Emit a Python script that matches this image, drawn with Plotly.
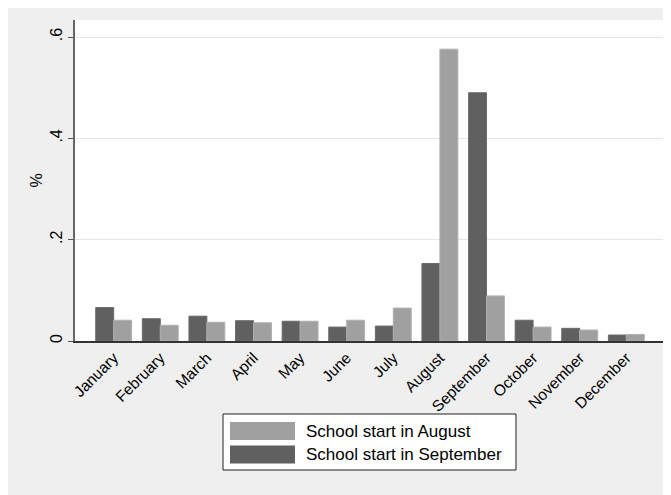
import plotly.graph_objects as go

months = ["January", "February", "March", "April", "May", "June", "July",
          "August", "September", "October", "November", "December"]
sept_start = [0.066, 0.044, 0.049, 0.040, 0.039, 0.0275, 0.0295, 0.153, 0.490, 0.041, 0.025, 0.0118]
aug_start = [0.041, 0.031, 0.037, 0.036, 0.039, 0.041, 0.065, 0.576, 0.089, 0.0275, 0.0216, 0.013]
series_names = ["School start in August", "School start in September"]
y_ticks = [0, 0.2, 0.4, 0.6]
y_ticklabels = ["0", ".2", ".4", ".6"]

DARK = "#606060"
LIGHT = "#a0a0a0"
FONT = "Liberation Sans, Arial, sans-serif"

fig = go.Figure()
fig.add_trace(go.Bar(x=months, y=sept_start, name=series_names[1],
                     marker=dict(color=DARK, line=dict(color="#6a6a6a", width=1)),
                     showlegend=False))
fig.add_trace(go.Bar(x=months, y=aug_start, name=series_names[0],
                     marker=dict(color=LIGHT, line=dict(color="#b0b0b0", width=1)),
                     showlegend=False))

OFF = 8  # page body margin
W, H = 663, 495
L, R, T, B = 67, 6, 12, 162
pw = W - L - R
ph = H - T - B

def px_x(x):  # page pixel -> paper coordinate
    return (x - OFF - L) / pw

def px_y(y):
    return (H - B - (y - OFF)) / ph

shapes = [
    dict(type="rect", xref="paper", yref="paper", x0=px_x(223), x1=px_x(516),
         y0=px_y(470), y1=px_y(414), fillcolor="white",
         line=dict(color="#222222", width=1)),
    dict(type="rect", xref="paper", yref="paper", x0=px_x(230), x1=px_x(295),
         y0=px_y(440), y1=px_y(422), fillcolor=LIGHT, line_width=0),
    dict(type="rect", xref="paper", yref="paper", x0=px_x(230), x1=px_x(295),
         y0=px_y(463.5), y1=px_y(445.5), fillcolor=DARK, line_width=0),
]
annotations = [
    dict(xref="paper", yref="paper", x=px_x(304), y=px_y(431), text=series_names[0],
         showarrow=False, xanchor="left", yanchor="middle",
         font=dict(family=FONT, size=17, color="black")),
    dict(xref="paper", yref="paper", x=px_x(304), y=px_y(454.5), text=series_names[1],
         showarrow=False, xanchor="left", yanchor="middle",
         font=dict(family=FONT, size=17, color="black")),
]

fig.update_layout(
    width=W, height=H,
    margin=dict(l=L, r=R, t=T, b=B, autoexpand=False),
    paper_bgcolor="#efefef",
    plot_bgcolor="white",
    barmode="group",
    bargap=0.23,
    bargroupgap=0,
    font=dict(family=FONT, color="black"),
    shapes=shapes,
    annotations=annotations,
    showlegend=False,
)
fig.update_xaxes(
    type="category",
    range=[-0.83, 11.83],
    tickangle=-45,
    tickfont=dict(size=15.5, family=FONT),
    showline=True, linecolor="#333333", linewidth=1.5,
    ticks="", showgrid=False, zeroline=False,
)
fig.update_yaxes(
    range=[0, 0.6 * 321 / 304],
    tickvals=y_ticks, ticktext=y_ticklabels,
    tickangle=-90,
    tickfont=dict(size=16, family=FONT),
    ticks="outside", ticklen=5, tickcolor="#555555",
    showline=True, linecolor="#666666", linewidth=1.5,
    showgrid=True, gridcolor="#e6e6e6", gridwidth=1,
    zeroline=False,
    title=dict(text="%", font=dict(size=16, family=FONT), standoff=1),
)

fig.write_html("out.html")
